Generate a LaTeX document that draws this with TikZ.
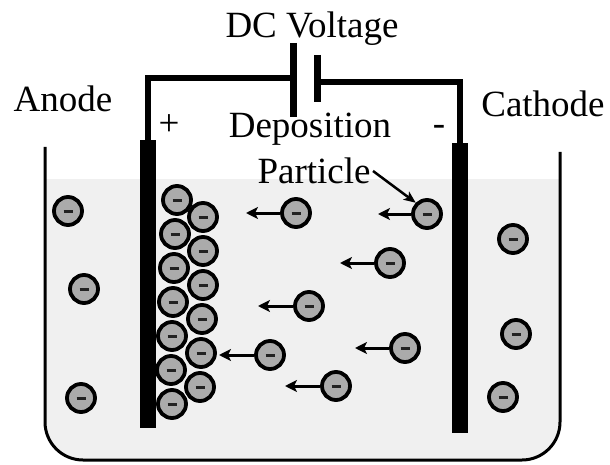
\documentclass[tikz,border=0pt]{standalone}
\usepackage{fontspec}
\setmainfont{Liberation Serif}
\usetikzlibrary{arrows.meta}
\definecolor{liquid}{HTML}{F0F0F0}
\definecolor{pfill}{HTML}{ABABAB}
\definecolor{minuscol}{HTML}{222222}
\newcommand\pminus{\textcolor{minuscol}{\rule{9pt}{3pt}}}
\tikzset{
  particle/.style={circle, draw=black, line width=3.8pt, fill=pfill, minimum size=28pt, inner sep=0pt},
  move/.style={line width=3pt, -{Stealth[length=12pt,width=12pt,inset=3pt]}},
  lbl/.style={font=\fontsize{37}{40}\selectfont, inner sep=0pt, anchor=base},
  wire/.style={line width=6pt},
  plate/.style={line width=7pt},
  electrode/.style={fill=black, draw=none},
  wall/.style={line width=3pt, draw=black}
}
\begin{document}
\begin{tikzpicture}[x=1pt,y=-1pt]
\useasboundingbox (0,0) rectangle (610,465);
\fill[white] (0,0) rectangle (610,465);
% liquid
\begin{scope}
  \clip (0,180) rectangle (610,465);
  \fill[liquid, rounded corners=38pt] (45,100) rectangle (560,460);
\end{scope}
% container
\draw[wall, rounded corners=38pt] (45,147) -- (45,460) -- (560,460) -- (560,152);
% electrodes
\fill[electrode] (140,140) rectangle (156,428);
\fill[electrode] (452,143) rectangle (468,433);
\coordinate (ltop) at (148,141);
\coordinate (rtop) at (460,144);
\coordinate (lcorner) at (148,78);
\coordinate (rcorner) at (460,82);
\coordinate (pl1) at (293.5,43);
\coordinate (pl2) at (293.5,117);
\coordinate (pr1) at (317.5,55);
\coordinate (pr2) at (317.5,102);
\coordinate (plm) at (293.5,78);
\coordinate (prm) at (317.5,82);
\draw[wire] (ltop) -- (lcorner) -- (plm);
\draw[wire] (prm) -- (rcorner) -- (rtop);
\draw[plate] (pl1) -- (pl2);
\draw[plate] (pr1) -- (pr2);
% texts
\node[lbl] (dc) at (312,38) {DC Voltage};
\node[lbl] (dep) at (310,138) {Deposition};
\node[lbl] (part) at (314,183) {Particle};
\node[lbl] (anode) at (63,112) {Anode};
\node[lbl] (cathode) at (543,117) {Cathode};
\node[lbl] (plus) at (169,136) {+};
\node[lbl] (minus) at (439,136) {-};
% outside particles
\node[particle] (o1) at (68,211) {\pminus};
\node[particle] (o2) at (84,289) {\pminus};
\node[particle] (o3) at (81,398) {\pminus};
\node[particle] (o4) at (513,239) {\pminus};
\node[particle] (o5) at (516,334) {\pminus};
\node[particle] (o6) at (503,397) {\pminus};
% deposited stack
\node[particle] (c1) at (177,200) {\pminus};
\node[particle] (c2) at (175,234) {\pminus};
\node[particle] (c3) at (174,268) {\pminus};
\node[particle] (c4) at (173,302) {\pminus};
\node[particle] (c5) at (172,336) {\pminus};
\node[particle] (c6) at (171,370) {\pminus};
\node[particle] (c7) at (172,404) {\pminus};
\node[particle] (d1) at (203,217) {\pminus};
\node[particle] (d2) at (203,251) {\pminus};
\node[particle] (d3) at (203,285) {\pminus};
\node[particle] (d4) at (202,319) {\pminus};
\node[particle] (d5) at (201,353) {\pminus};
\node[particle] (d6) at (200,387) {\pminus};
% moving particles
\node[particle] (m1) at (296,213) {\pminus};
\node[particle] (m2) at (427,214) {\pminus};
\node[particle] (m3) at (390,263) {\pminus};
\node[particle] (m4) at (309,306) {\pminus};
\node[particle] (m5) at (405,348) {\pminus};
\node[particle] (m6) at (270,355) {\pminus};
\node[particle] (m7) at (336,386) {\pminus};
\coordinate (t1) at (246,213);
\coordinate (t2) at (378,214);
\coordinate (t3) at (340,263);
\coordinate (t4) at (258,306);
\coordinate (t5) at (355,348);
\coordinate (t6) at (219,355);
\coordinate (t7) at (285,386);
\foreach \i in {1,...,7} { \draw[move] (m\i.west) -- (t\i); }
% label arrow
\coordinate (pa) at (373,171);
\draw[line width=2.5pt, -{Stealth[length=12pt,width=10pt,inset=3pt]}] (pa) -- (m2.north west);
\end{tikzpicture}
\end{document}
